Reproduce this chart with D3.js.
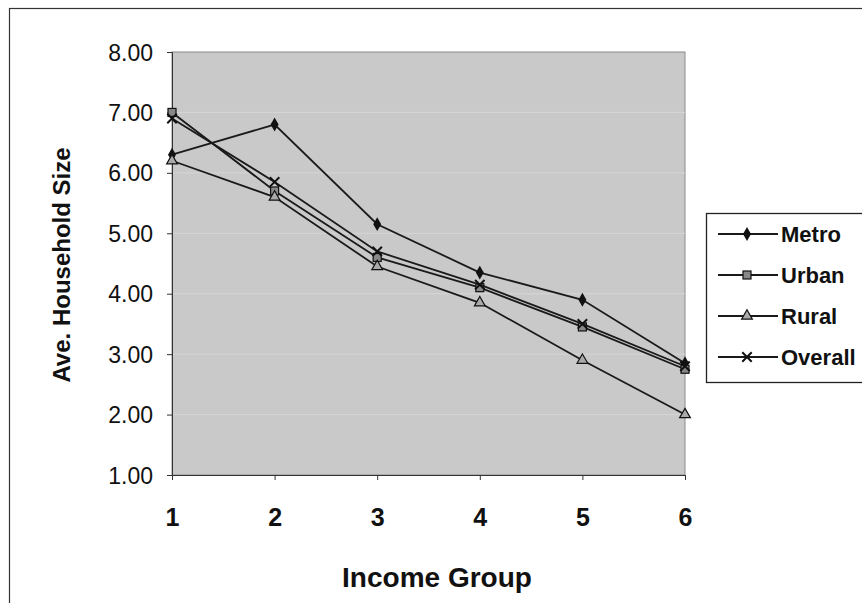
<!DOCTYPE html>
<html>
<head>
<script src="https://cdnjs.cloudflare.com/ajax/libs/d3/7.8.5/d3.min.js"></script>
<style>
body { margin: 0; background: #fff; }
svg text { font-family: "Liberation Sans", Arial, sans-serif; font-weight: bold; fill: #111; }
</style>
</head>
<body>
<div id="chart"></div>
<script>
// income groups on the x axis
var groups = [1, 2, 3, 4, 5, 6];
// average household size
var metro   = [6.30, 6.80, 5.15, 4.35, 3.90, 2.85];
var urban   = [7.00, 5.70, 4.60, 4.10, 3.45, 2.75];
var rural   = [6.20, 5.60, 4.45, 3.85, 2.90, 2.00];
var overall = [6.90, 5.85, 4.70, 4.15, 3.50, 2.80];
var yTicks = [1, 2, 3, 4, 5, 6, 7, 8];
var seriesNames = ["Metro", "Urban", "Rural", "Overall"];
var seriesVals = [metro, urban, rural, overall];
var markers = ["diamond", "square", "triangle", "cross"];

var W = 862, H = 603;
var svg = d3.select("#chart").append("svg")
	.attr("width", W)
	.attr("height", H);

// outer chart frame
svg.append("rect")
	.attr("x", 9.5).attr("y", 8.5)
	.attr("width", 870).attr("height", 600)
	.attr("fill", "#fff")
	.attr("stroke", "#333").attr("stroke-width", 1.2);

var x = d3.scaleLinear().domain([1, 6]).range([172, 685]);
var y = d3.scaleLinear().domain([1, 8]).range([475, 52]);

// plot area
svg.append("rect")
	.attr("x", x(1)).attr("y", y(8))
	.attr("width", x(6) - x(1)).attr("height", y(1) - y(8))
	.attr("fill", "#c9c9c9")
	.attr("stroke", "#8a8a8a").attr("stroke-width", 1);

// grid lines
svg.append("g").selectAll("line")
	.data(yTicks.slice(1, -1))
	.enter().append("line")
	.attr("x1", x(1)).attr("x2", x(6))
	.attr("y1", function(d){ return y(d); })
	.attr("y2", function(d){ return y(d); })
	.attr("stroke", "#d6d6d6").attr("stroke-width", 1);

// axes
var yAxis = d3.axisLeft(y).tickValues(yTicks).tickFormat(d3.format(".2f")).tickSize(5).tickPadding(14);
var gy = svg.append("g").attr("transform", "translate(" + x(1) + ",0)").call(yAxis);
gy.selectAll("text").style("font-size", "23px").style("font-weight", "normal").attr("dy", "0.35em");
gy.selectAll("path, line").attr("stroke", "#333");

var xAxis = d3.axisBottom(x).tickValues(groups).tickFormat(d3.format("d")).tickSize(5).tickPadding(28);
var gx = svg.append("g").attr("transform", "translate(0," + y(1) + ")").call(xAxis);
gx.selectAll("text").style("font-size", "25px");
gx.selectAll("path, line").attr("stroke", "#333");

// axis titles
svg.append("text")
	.attr("transform", "translate(70,265) rotate(-90)")
	.attr("text-anchor", "middle")
	.style("font-size", "24px")
	.text("Ave. Household Size");
svg.append("text")
	.attr("x", 437).attr("y", 587)
	.attr("text-anchor", "middle")
	.style("font-size", "28px")
	.text("Income Group");

function drawMarker(g, type, cx, cy) {
	if (type == "diamond") {
		g.append("path").attr("d", d3.symbol().type(d3.symbolDiamond).size(55)())
			.attr("transform", "translate(" + cx + "," + cy + ")")
			.attr("fill", "#111");
	} else if (type == "square") {
		g.append("rect").attr("x", cx - 4).attr("y", cy - 4).attr("width", 8).attr("height", 8)
			.attr("fill", "#888").attr("stroke", "#111").attr("stroke-width", 1.2);
	} else if (type == "triangle") {
		g.append("path").attr("d", d3.symbol().type(d3.symbolTriangle).size(50)())
			.attr("transform", "translate(" + cx + "," + cy + ")")
			.attr("fill", "#aaa").attr("stroke", "#111").attr("stroke-width", 1.2);
	} else {
		g.append("path").attr("d", d3.symbol().type(d3.symbolTimes).size(60)())
			.attr("transform", "translate(" + cx + "," + cy + ")")
			.attr("fill", "none").attr("stroke", "#111").attr("stroke-width", 2);
	}
}

var line = d3.line()
	.x(function(d, i){ return x(groups[i]); })
	.y(function(d){ return y(d); });

for (var s = 0; s < seriesVals.length; s++) {
	var g = svg.append("g");
	g.append("path")
		.datum(seriesVals[s])
		.attr("d", line)
		.attr("fill", "none")
		.attr("stroke", "#1a1a1a")
		.attr("stroke-width", 1.8);
	for (var i = 0; i < groups.length; i++) {
		drawMarker(g, markers[s], x(groups[i]), y(seriesVals[s][i]));
	}
}

// legend
var lg = svg.append("g");
lg.append("rect")
	.attr("x", 706.5).attr("y", 213.5)
	.attr("width", 170).attr("height", 169)
	.attr("fill", "#fff")
	.attr("stroke", "#222").attr("stroke-width", 1.3);
for (var k = 0; k < seriesNames.length; k++) {
	var ly = 234 + k * 41;
	lg.append("line")
		.attr("x1", 718).attr("x2", 778)
		.attr("y1", ly).attr("y2", ly)
		.attr("stroke", "#1a1a1a").attr("stroke-width", 1.8);
	drawMarker(lg, markers[k], 747, ly);
	lg.append("text")
		.attr("x", 781).attr("y", ly)
		.attr("dy", "0.35em")
		.style("font-size", "22px")
		.text(seriesNames[k]);
}
</script>
</body>
</html>
